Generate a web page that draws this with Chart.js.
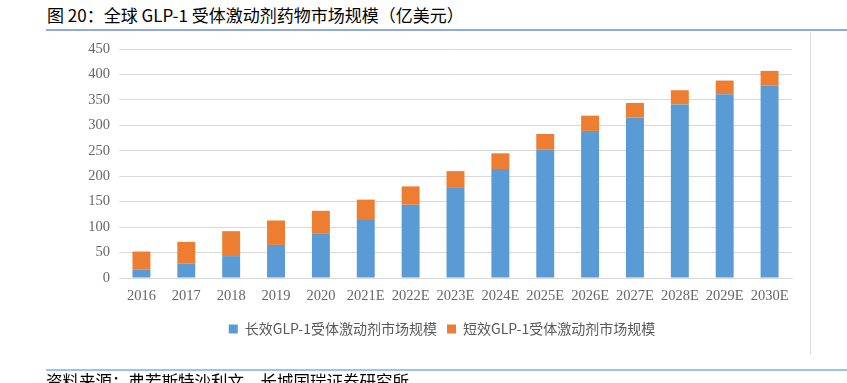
<!DOCTYPE html>
<html>
<head>
<meta charset="utf-8">
<script src="https://cdn.jsdelivr.net/npm/chart.js@4"></script>
<style>
  html, body { margin: 0; padding: 0; background: #fff; }
  body { width: 847px; height: 383px; position: relative; overflow: hidden; font-family: 'Noto Sans CJK SC', sans-serif; }
  .title { position: absolute; left: 47px; top: 4px; font-size: 17px; line-height: 22px; color: #000; white-space: nowrap; }
  .rule-top { position: absolute; left: 46px; right: 0; top: 29px; height: 1.5px; background: #8eaadb; }
  .frame-right { position: absolute; left: 810px; top: 32px; width: 1px; height: 322px; background: #d9d9d9; }
  .rule-bottom { position: absolute; left: 46px; right: 0; top: 369px; height: 1.5px; background: #9dc3e6; }
  .source { position: absolute; left: 46px; top: 370px; font-size: 16.5px; line-height: 22px; color: #000; white-space: nowrap; }
  .chart-box { position: absolute; left: 0; top: 0; width: 847px; height: 383px; }
</style>
</head>
<body>
<div class="title">图 20：全球 GLP-1 受体激动剂药物市场规模（亿美元）</div>
<div class="rule-top"></div>
<div class="frame-right"></div>
<div class="chart-box"><canvas id="grafico"></canvas></div>
<div class="rule-bottom"></div>
<div class="source">资料来源：弗若斯特沙利文，长城国瑞证券研究所</div>
<script>
  const anios = ['2016', '2017', '2018', '2019', '2020', '2021E', '2022E', '2023E', '2024E', '2025E', '2026E', '2027E', '2028E', '2029E', '2030E'];
  const largoPlazo = [17, 28, 43, 65, 88, 114, 144, 177, 214, 252, 289, 315, 341, 361, 379];
  const cortoPlazo = [35, 43, 49, 48, 44, 40, 36, 33, 31, 31, 30, 29, 28, 27, 28];
  const ticksY = [0, 50, 100, 150, 200, 250, 300, 350, 400, 450];

  const ctx = document.getElementById('grafico').getContext('2d');
  const fuenteEje = { family: "'Liberation Serif', 'Times New Roman', serif", size: 14.5 };

  // mueve la leyenda para que quede centrada como en el original
  const moverLeyenda = {
    id: 'moverLeyenda',
    afterLayout(chart) {
      if (chart.legend) {
        chart.legend.left = 92;
        chart.legend.right = 792;
      }
    }
  };

  new Chart(ctx, {
    type: 'bar',
    data: {
      labels: anios,
      datasets: [{
        label: '长效GLP-1受体激动剂市场规模',
        data: largoPlazo,
        backgroundColor: '#5b9bd5',
        borderWidth: 0
      }, {
        label: '短效GLP-1受体激动剂市场规模',
        data: cortoPlazo,
        backgroundColor: '#ed7d31',
        borderWidth: 0
      }]
    },
    plugins: [moverLeyenda],
    options: {
      responsive: true,
      maintainAspectRatio: false,
      animation: false,
      layout: { padding: { left: 0, right: 55, top: 49, bottom: 37 } },
      datasets: { bar: { categoryPercentage: 1, barPercentage: 0.4 } },
      plugins: {
        title: { display: false },
        tooltip: { enabled: false },
        legend: {
          position: 'bottom',
          labels: {
            boxWidth: 9,
            boxHeight: 9,
            padding: 10,
            color: '#595959',
            font: { family: "'Noto Sans CJK SC', sans-serif", size: 14 }
          }
        }
      },
      scales: {
        x: {
          stacked: true,
          grid: { display: false, drawTicks: false },
          border: { color: '#d9d9d9', width: 1 },
          ticks: { color: '#666', font: fuenteEje, padding: 9, maxRotation: 0, autoSkip: false },
          afterFit: function(scale) { scale.height = 34; }
        },
        y: {
          stacked: true,
          min: 0,
          max: 450,
          afterBuildTicks: function(scale) { scale.ticks = ticksY.map(v => ({ value: v })); },
          grid: { color: '#d9d9d9', lineWidth: 1, drawTicks: false },
          border: { display: false },
          ticks: { color: '#666', font: fuenteEje, padding: 9 },
          afterFit: function(scale) { scale.width = 119; }
        }
      }
    }
  });
</script>
</body>
</html>
